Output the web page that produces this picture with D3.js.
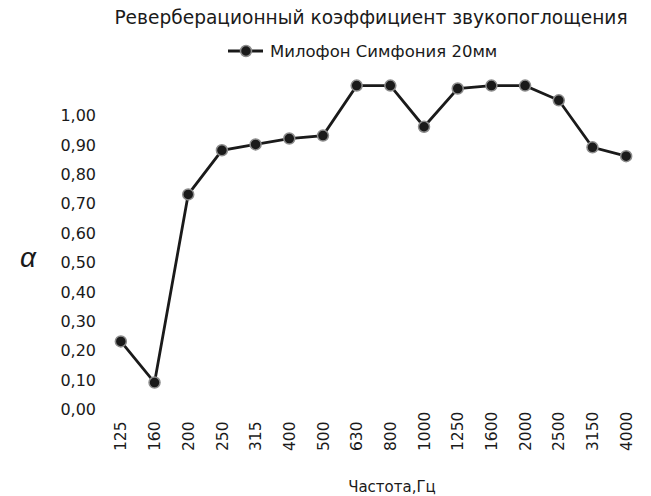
<!DOCTYPE html>
<html>
<head>
<meta charset="utf-8">
<script src="https://cdn.jsdelivr.net/npm/d3@7"></script>
<style>
    body { margin: 0; background: #fff; }
    text { font-family: "DejaVu Sans", "Liberation Sans", Arial, sans-serif; fill: #1a1a1a; }
</style>
</head>
<body>
<div id="chart"></div>
<script>
// frequency bands, Hz
var freqs = ["125", "160", "200", "250", "315", "400", "500", "630", "800",
    "1000", "1250", "1600", "2000", "2500", "3150", "4000"];
// absorption coefficient
var alphaValues = [0.23, 0.09, 0.73, 0.88, 0.90, 0.92, 0.93, 1.10, 1.10,
    0.96, 1.09, 1.10, 1.10, 1.05, 0.89, 0.86];
var yTicks = [0, 0.1, 0.2, 0.3, 0.4, 0.5, 0.6, 0.7, 0.8, 0.9, 1.0];

var seriesName = "Милофон Симфония 20мм",
    title = "Реверберационный коэффициент звукопоглощения";

var w = 651, h = 496;
var svg = d3.select("#chart").append("svg").attr("width", w).attr("height", h);

var x = d3.scaleBand().domain(freqs).range([104, 643]);
var y = d3.scaleLinear().domain([0, 1]).range([409, 115]);

var fmt = function (d) { return d3.format(".2f")(d).replace(".", ","); };
var font = "DejaVu Sans, Liberation Sans, Arial, sans-serif";

// y axis (labels only)
var yAxis = svg.append("g")
    .attr("transform", "translate(101,0)")
    .call(d3.axisLeft(y).tickValues(yTicks).tickFormat(fmt).tickSize(0).tickPadding(5));
yAxis.select(".domain").remove();
yAxis.selectAll("text").attr("dy", "0.36em")
    .style("font-size", "16px").style("font-family", font).attr("fill", "#1a1a1a");

// x axis, rotated labels
var xAxis = svg.append("g")
    .attr("transform", "translate(0,451)")
    .call(d3.axisBottom(x).tickSize(0).tickPadding(0));
xAxis.select(".domain").remove();
xAxis.selectAll("text")
    .attr("transform", "rotate(-90)")
    .attr("x", 0).attr("y", 0).attr("dy", "0.36em")
    .style("text-anchor", "start")
    .style("font-size", "15.5px")
    .style("font-family", font)
    .attr("fill", "#1a1a1a");

var line = d3.line()
    .x(function (d, i) { return x(freqs[i]) + x.bandwidth() / 2; })
    .y(function (d) { return y(d); });

svg.append("path")
    .datum(alphaValues)
    .attr("d", line)
    .attr("fill", "none")
    .attr("stroke", "#1a1a1a")
    .attr("stroke-width", 2.8);

svg.selectAll(".dot")
    .data(alphaValues)
    .enter().append("circle")
    .attr("class", "dot")
    .attr("cx", function (d, i) { return x(freqs[i]) + x.bandwidth() / 2; })
    .attr("cy", function (d) { return y(d); })
    .attr("r", 5.5)
    .attr("fill", "#1a1a1a")
    .attr("stroke", "#8c8c8c")
    .attr("stroke-width", 1.5);

// title
svg.append("text")
    .attr("x", 371).attr("y", 24)
    .attr("text-anchor", "middle")
    .style("font-size", "18.6px")
    .text(title);

// legend
var lg = svg.append("g").attr("transform", "translate(0,51)");
lg.append("line").attr("x1", 228).attr("x2", 263).attr("y1", 0).attr("y2", 0)
    .attr("stroke", "#1a1a1a").attr("stroke-width", 2.8);
lg.append("circle").attr("cx", 246).attr("cy", 0).attr("r", 5.5)
    .attr("fill", "#1a1a1a").attr("stroke", "#8c8c8c").attr("stroke-width", 1.5);
lg.append("text").attr("x", 270).attr("y", 0).attr("dy", "0.36em")
    .style("font-size", "16.5px").text(seriesName);

// axis titles
svg.append("text")
    .attr("x", 28).attr("y", 257).attr("dy", "0.35em")
    .attr("text-anchor", "middle")
    .style("font-family", "Liberation Sans, Arial, sans-serif")
    .style("font-size", "28px").style("font-style", "italic")
    .text("α");
svg.append("text")
    .attr("x", 392).attr("y", 492)
    .attr("text-anchor", "middle")
    .style("font-size", "15px")
    .text("Частота,Гц");
</script>
</body>
</html>
